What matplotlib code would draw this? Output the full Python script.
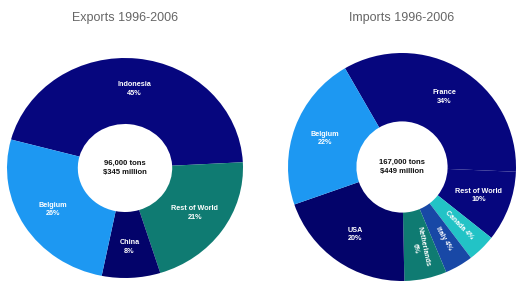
import numpy as np
import matplotlib.pyplot as plt

plt.rcParams['font.family'] = ['Liberation Sans', 'DejaVu Sans']

# DATA
exp_names = ['Indonesia', 'Rest of World', 'China', 'Belgium']
exp_shares = [45, 21, 8, 26]
exp_total = '96,000 tons\n$345 million'

imp_names = ['France', 'Rest of World', 'Canada', 'Italy', 'Netherlands',
             'USA', 'Belgium']
imp_shares = [34, 10, 4, 4, 6, 20, 22]
imp_total = '167,000 tons\n$449 million'

navy = '#06067e'
navy2 = '#03036a'
light = '#1d98f2'
teal = '#0f7b72'
cyan = '#22c3c6'
blue = '#1848a6'

exp_colors = [navy, teal, navy2, light]
imp_colors = [navy, navy, cyan, blue, teal, navy2, light]

W, H = 518, 282


def donut(cx, cy, rx, ry, names, shares, colors, start, total, title):
    ax = fig.add_axes([(cx - rx) / W, (H - cy - ry) / H, 2 * rx / W, 2 * ry / H])
    wedges, _ = ax.pie(shares, colors=colors, startangle=start,
                       counterclock=False, radius=1,
                       wedgeprops=dict(width=0.6, linewidth=0))
    ax.set_aspect('auto')
    ax.set_xlim(-1, 1)
    ax.set_ylim(-1, 1)
    ax.axis('off')

    for w, name, s in zip(wedges, names, shares):
        mid = np.deg2rad((w.theta1 + w.theta2) / 2)
        x, y = 0.72 * np.cos(mid), 0.72 * np.sin(mid)
        if s <= 6:
            txt = f'{name} {s}%' if s < 5 else f'{name}\n{s}%'
            ax.text(x, y, txt, ha='center', va='center', color='white',
                    fontsize=5, fontweight='bold',
                    rotation=np.rad2deg(mid), rotation_mode='anchor',
                    clip_on=False)
        else:
            ax.text(x, y, f'{name}\n{s}%', ha='center', va='center',
                    color='white', fontsize=5.2, fontweight='bold',
                    linespacing=1.3, clip_on=False)

    ax.text(0, 0, total, ha='center', va='center', color='#111',
            fontsize=5.5, fontweight='bold', linespacing=1.3)
    fig.text(cx / W, 1 - 18 / H, title, ha='center', va='center',
             color='#666', fontsize=9)


fig = plt.figure(figsize=(W / 100, H / 100), dpi=100)
fig.patch.set_facecolor('white')

donut(125, 168, 118, 110, exp_names, exp_shares, exp_colors, 165,
      exp_total, 'Exports 1996-2006')
donut(402, 167, 114, 114, imp_names, imp_shares, imp_colors, 120,
      imp_total, 'Imports 1996-2006')

plt.savefig('out.png', dpi=100)
